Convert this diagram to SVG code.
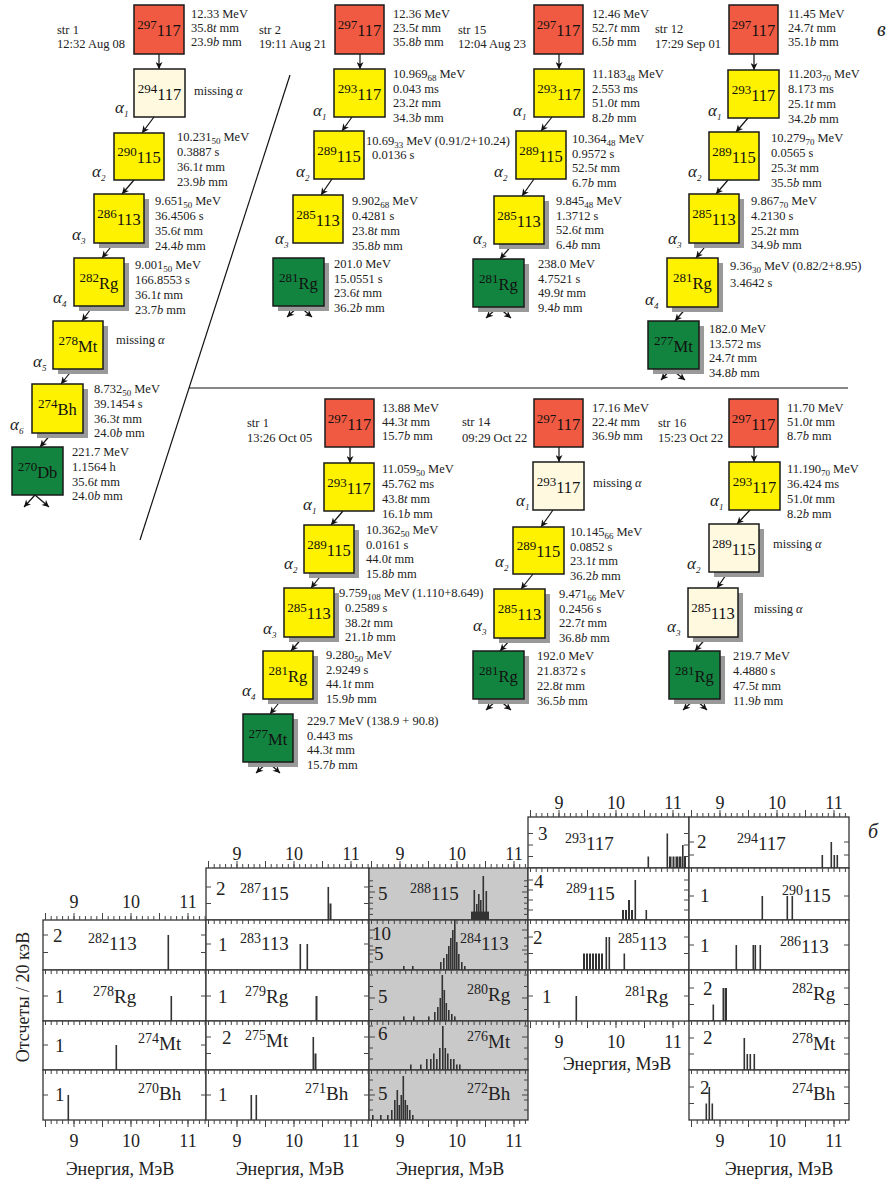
<svg xmlns="http://www.w3.org/2000/svg" width="889" height="1184" viewBox="0 0 889 1184">
<style>
text{font-family:"Liberation Serif","Times New Roman",serif}
.d{font-size:12.5px;fill:#222}
.nl{font-size:16.5px;text-anchor:middle;fill:#111}
.ms{font-size:13px}
.sub{font-size:9px}
.i{font-style:italic}
.al{font-style:italic;font-size:17px;fill:#222}
.bx{stroke:#1a1a1a;stroke-width:1.5}
.red{fill:#F15A42}
.yel{fill:#FFF200}
.crm{fill:#FFF9E0}
.grn{fill:#13843F}
.sh{fill:#999}
.ln{stroke:#111;stroke-width:1.2;fill:none}
.ar{stroke:#111;stroke-width:1.2;fill:none;marker-end:url(#ah)}
.fr{fill:#fff;stroke:#333;stroke-width:1.3}
.gp{fill:#c9c9c9;stroke:#333;stroke-width:1.3}
.bar rect{fill:#333}
.tk{stroke:#444;stroke-width:4;stroke-dasharray:1 4.7;fill:none}
.tkM{stroke:#444;stroke-width:7;stroke-dasharray:1 27.5;fill:none}
.yt{stroke:#444;stroke-width:1;fill:none}
.ht{font-size:19px;fill:#222}
.hs{font-size:14px}
.ax{font-size:18px;text-anchor:middle;fill:#222}
.pl{font-style:italic;font-size:20px;fill:#222}
</style>
<defs>
<marker id="ah" viewBox="0 0 10 10" refX="10" refY="5" markerWidth="8" markerHeight="7" orient="auto" markerUnits="userSpaceOnUse"><path d="M0,0 L10,5 L0,10 L3,5 z" fill="#111"/></marker>
</defs>
<rect width="889" height="1184" fill="#fff"/>

<g id="separators">
<line class="ln" x1="290" y1="75" x2="140" y2="540"/>
<line class="ln" x1="189" y1="388" x2="848" y2="388"/>
</g>
<text class="pl" x="877" y="36">в</text>

<g id="connectors">
<line class="ar" x1="159" y1="54" x2="159" y2="69"/>
<line class="ar" x1="154" y1="117" x2="142" y2="133"/>
<line class="ar" x1="134" y1="180" x2="122" y2="194"/>
<line class="ar" x1="114" y1="243" x2="102" y2="258"/>
<line class="ar" x1="93" y1="306" x2="82" y2="321"/>
<line class="ar" x1="73" y1="369" x2="61" y2="384"/>
<line class="ar" x1="52" y1="433" x2="40" y2="447"/>
<line class="ar" x1="35" y1="495" x2="24" y2="507"/>
<line class="ar" x1="35" y1="495" x2="49" y2="507"/>

<line class="ar" x1="360" y1="54" x2="360" y2="69"/>
<line class="ar" x1="352" y1="117" x2="342" y2="131"/>
<line class="ar" x1="332" y1="179" x2="321" y2="195"/>
<line class="ar" x1="299" y1="306" x2="287" y2="317"/>
<line class="ar" x1="299" y1="306" x2="312" y2="317"/>

<line class="ar" x1="559" y1="54" x2="559" y2="69"/>
<line class="ar" x1="552" y1="117" x2="541" y2="131"/>
<line class="ar" x1="534" y1="179" x2="522" y2="196"/>
<line class="ar" x1="513" y1="244" x2="500" y2="259"/>
<line class="ar" x1="498" y1="307" x2="486" y2="318"/>
<line class="ar" x1="498" y1="307" x2="511" y2="318"/>

<line class="ar" x1="754" y1="54" x2="754" y2="70"/>
<line class="ar" x1="748" y1="118" x2="736" y2="132"/>
<line class="ar" x1="728" y1="180" x2="716" y2="194"/>
<line class="ar" x1="708" y1="243" x2="696" y2="258"/>
<line class="ar" x1="687" y1="307" x2="675" y2="321"/>
<line class="ar" x1="671" y1="369" x2="661" y2="380"/>
<line class="ar" x1="671" y1="369" x2="685" y2="380"/>

<line class="ar" x1="350" y1="447" x2="350" y2="463"/>
<line class="ar" x1="343" y1="511" x2="331" y2="525"/>
<line class="ar" x1="323" y1="573" x2="311" y2="588"/>
<line class="ar" x1="303" y1="637" x2="291" y2="651"/>
<line class="ar" x1="282" y1="699" x2="270" y2="714"/>
<line class="ar" x1="268" y1="762" x2="256" y2="773"/>
<line class="ar" x1="268" y1="762" x2="280" y2="773"/>

<line class="ar" x1="559" y1="447" x2="559" y2="462"/>
<line class="ar" x1="553" y1="510" x2="541" y2="527"/>
<line class="ar" x1="533" y1="574" x2="521" y2="589"/>
<line class="ar" x1="512" y1="638" x2="500" y2="651"/>
<line class="ar" x1="498" y1="699" x2="486" y2="710"/>
<line class="ar" x1="498" y1="699" x2="511" y2="710"/>

<line class="ar" x1="754" y1="447" x2="754" y2="462"/>
<line class="ar" x1="750" y1="510" x2="737" y2="524"/>
<line class="ar" x1="728" y1="572" x2="717" y2="588"/>
<line class="ar" x1="707" y1="637" x2="695" y2="651"/>
<line class="ar" x1="695" y1="699" x2="683" y2="710"/>
<line class="ar" x1="695" y1="699" x2="707" y2="710"/>
</g>

<!-- ===== chain str 1 (Aug 08) ===== -->
<text class="d" x="57" y="34">str 1<tspan x="57" dy="14">12:32 Aug 08</tspan></text>
<g id="a-297"><rect class="bx red" x="134" y="5" width="50" height="49"/><text class="nl" x="159" y="36"><tspan class="ms" dy="-7">297</tspan><tspan dy="7">117</tspan></text>
<text class="d" x="191" y="18">12.33 MeV<tspan x="191" dy="14">35.8<tspan class="i">t</tspan> mm</tspan><tspan x="191" dy="14">23.9<tspan class="i">b</tspan> mm</tspan></text></g>
<g id="a-294"><rect class="bx crm" x="134" y="69" width="51" height="48"/><text class="nl" x="159.5" y="100"><tspan class="ms" dy="-7">294</tspan><tspan dy="7">117</tspan></text>
<text class="d" x="194" y="95">missing <tspan class="i">α</tspan></text>
<text class="al" x="115" y="113">α<tspan class="sub" dy="4">1</tspan></text></g>
<g id="a-290"><rect class="bx yel" x="114" y="133" width="50" height="47"/><text class="nl" x="139" y="163"><tspan class="ms" dy="-7">290</tspan><tspan dy="7">115</tspan></text>
<text class="d" x="177" y="141">10.231<tspan class="sub" dy="3">50</tspan><tspan dy="-3"> MeV</tspan><tspan x="177" dy="15">0.3887 s</tspan><tspan x="177" dy="15">36.1<tspan class="i">t</tspan> mm</tspan><tspan x="177" dy="15">23.9<tspan class="i">b</tspan> mm</tspan></text>
<text class="al" x="92" y="177">α<tspan class="sub" dy="4">2</tspan></text></g>
<g id="a-286"><rect class="sh" x="99" y="199" width="50" height="49"/><rect class="bx yel" x="94" y="194" width="50" height="49"/><text class="nl" x="119" y="225"><tspan class="ms" dy="-7">286</tspan><tspan dy="7">113</tspan></text>
<text class="d" x="155" y="205">9.651<tspan class="sub" dy="3">50</tspan><tspan dy="-3"> MeV</tspan><tspan x="155" dy="15">36.4506 s</tspan><tspan x="155" dy="15">35.6<tspan class="i">t</tspan> mm</tspan><tspan x="155" dy="14.5">24.4<tspan class="i">b</tspan> mm</tspan></text>
<text class="al" x="72" y="240">α<tspan class="sub" dy="4">3</tspan></text></g>
<g id="a-282"><rect class="sh" x="79" y="263" width="50" height="48"/><rect class="bx yel" x="74" y="258" width="50" height="48"/><text class="nl" x="99" y="289"><tspan class="ms" dy="-7">282</tspan><tspan dy="7">Rg</tspan></text>
<text class="d" x="135" y="269">9.001<tspan class="sub" dy="3">50</tspan><tspan dy="-3"> MeV</tspan><tspan x="135" dy="15">166.8553 s</tspan><tspan x="135" dy="15">36.1<tspan class="i">t</tspan> mm</tspan><tspan x="135" dy="15">23.7<tspan class="i">b</tspan> mm</tspan></text>
<text class="al" x="53" y="303">α<tspan class="sub" dy="4">4</tspan></text></g>
<g id="a-278"><rect class="sh" x="58" y="326" width="50" height="48"/><rect class="bx yel" x="53" y="321" width="50" height="48"/><text class="nl" x="78" y="352"><tspan class="ms" dy="-7">278</tspan><tspan dy="7">Mt</tspan></text>
<text class="d" x="116" y="344">missing <tspan class="i">α</tspan></text>
<text class="al" x="33" y="367">α<tspan class="sub" dy="4">5</tspan></text></g>
<g id="a-274"><rect class="sh" x="37" y="389" width="51" height="49"/><rect class="bx yel" x="32" y="384" width="51" height="49"/><text class="nl" x="57.5" y="415"><tspan class="ms" dy="-7">274</tspan><tspan dy="7">Bh</tspan></text>
<text class="d" x="94" y="393">8.732<tspan class="sub" dy="3">50</tspan><tspan dy="-3"> MeV</tspan><tspan x="94" dy="15">39.1454 s</tspan><tspan x="94" dy="15">36.3<tspan class="i">t</tspan> mm</tspan><tspan x="94" dy="14">24.0<tspan class="i">b</tspan> mm</tspan></text>
<text class="al" x="10" y="430">α<tspan class="sub" dy="4">6</tspan></text></g>
<g id="a-270"><rect class="bx grn" x="12" y="447" width="51" height="48"/><text class="nl" x="37.5" y="478"><tspan class="ms" dy="-7">270</tspan><tspan dy="7">Db</tspan></text>
<text class="d" x="72" y="456">221.7 MeV<tspan x="72" dy="15">1.1564 h</tspan><tspan x="72" dy="15">35.6<tspan class="i">t</tspan> mm</tspan><tspan x="72" dy="14">24.0<tspan class="i">b</tspan> mm</tspan></text></g>

<!-- ===== chain str 2 ===== -->
<text class="d" x="259" y="34">str 2<tspan x="259" dy="14">19:11 Aug 21</tspan></text>
<g id="b-297"><rect class="bx red" x="335" y="5" width="49" height="49"/><text class="nl" x="359.5" y="36"><tspan class="ms" dy="-7">297</tspan><tspan dy="7">117</tspan></text>
<text class="d" x="393" y="18">12.36 MeV<tspan x="393" dy="14">23.5<tspan class="i">t</tspan> mm</tspan><tspan x="393" dy="14">35.8<tspan class="i">b</tspan> mm</tspan></text></g>
<g id="b-293"><rect class="bx yel" x="334" y="69" width="51" height="48"/><text class="nl" x="359.5" y="100"><tspan class="ms" dy="-7">293</tspan><tspan dy="7">117</tspan></text>
<text class="d" x="393" y="78">10.969<tspan class="sub" dy="3">68</tspan><tspan dy="-3"> MeV</tspan><tspan x="393" dy="15">0.043 ms</tspan><tspan x="393" dy="14">23.2<tspan class="i">t</tspan> mm</tspan><tspan x="393" dy="15">34.3<tspan class="i">b</tspan> mm</tspan></text>
<text class="al" x="313" y="116">α<tspan class="sub" dy="4">1</tspan></text></g>
<g id="b-289"><rect class="bx yel" x="314" y="131" width="50" height="48"/><text class="nl" x="339" y="162"><tspan class="ms" dy="-7">289</tspan><tspan dy="7">115</tspan></text>
<text class="d" x="366" y="145">10.69<tspan class="sub" dy="3">33</tspan><tspan dy="-3"> MeV (0.91/2+10.24)</tspan><tspan x="372" dy="14">0.0136 s</tspan></text>
<text class="al" x="296" y="177">α<tspan class="sub" dy="4">2</tspan></text></g>
<g id="b-285"><rect class="bx yel" x="293" y="195" width="50" height="48"/><text class="nl" x="318" y="226"><tspan class="ms" dy="-7">285</tspan><tspan dy="7">113</tspan></text>
<text class="d" x="352" y="205">9.902<tspan class="sub" dy="3">68</tspan><tspan dy="-3"> MeV</tspan><tspan x="352" dy="15">0.4281 s</tspan><tspan x="352" dy="15">23.8<tspan class="i">t</tspan> mm</tspan><tspan x="352" dy="14.5">35.8<tspan class="i">b</tspan> mm</tspan></text>
<text class="al" x="275" y="244">α<tspan class="sub" dy="4">3</tspan></text></g>
<g id="b-281"><rect class="sh" x="278" y="263" width="51" height="48"/><rect class="bx grn" x="273" y="258" width="51" height="48"/><text class="nl" x="298.5" y="289"><tspan class="ms" dy="-7">281</tspan><tspan dy="7">Rg</tspan></text>
<text class="d" x="334" y="268">201.0 MeV<tspan x="334" dy="14.5">15.0551 s</tspan><tspan x="334" dy="14.5">23.6<tspan class="i">t</tspan> mm</tspan><tspan x="334" dy="14.5">36.2<tspan class="i">b</tspan> mm</tspan></text></g>

<!-- ===== chain str 15 ===== -->
<text class="d" x="458" y="34">str 15<tspan x="458" dy="14">12:04 Aug 23</tspan></text>
<g id="c-297"><rect class="bx red" x="534" y="5" width="49" height="49"/><text class="nl" x="558.5" y="36"><tspan class="ms" dy="-7">297</tspan><tspan dy="7">117</tspan></text>
<text class="d" x="592" y="18">12.46 MeV<tspan x="592" dy="14">52.7<tspan class="i">t</tspan> mm</tspan><tspan x="592" dy="14">6.5<tspan class="i">b</tspan> mm</tspan></text></g>
<g id="c-293"><rect class="bx yel" x="534" y="69" width="50" height="48"/><text class="nl" x="559" y="100"><tspan class="ms" dy="-7">293</tspan><tspan dy="7">117</tspan></text>
<text class="d" x="592" y="78">11.183<tspan class="sub" dy="3">48</tspan><tspan dy="-3"> MeV</tspan><tspan x="592" dy="15">2.553 ms</tspan><tspan x="592" dy="14">51.0<tspan class="i">t</tspan> mm</tspan><tspan x="592" dy="15">8.2<tspan class="i">b</tspan> mm</tspan></text>
<text class="al" x="513" y="116">α<tspan class="sub" dy="4">1</tspan></text></g>
<g id="c-289"><rect class="bx yel" x="516" y="131" width="50" height="48"/><text class="nl" x="541" y="162"><tspan class="ms" dy="-7">289</tspan><tspan dy="7">115</tspan></text>
<text class="d" x="572" y="143">10.364<tspan class="sub" dy="3">48</tspan><tspan dy="-3"> MeV</tspan><tspan x="572" dy="15">0.9572 s</tspan><tspan x="572" dy="14">52.5<tspan class="i">t</tspan> mm</tspan><tspan x="572" dy="15">6.7<tspan class="i">b</tspan> mm</tspan></text>
<text class="al" x="494" y="177">α<tspan class="sub" dy="4">2</tspan></text></g>
<g id="c-285"><rect class="sh" x="499" y="201" width="50" height="48"/><rect class="bx yel" x="494" y="196" width="50" height="48"/><text class="nl" x="519" y="227"><tspan class="ms" dy="-7">285</tspan><tspan dy="7">113</tspan></text>
<text class="d" x="556" y="205">9.845<tspan class="sub" dy="3">48</tspan><tspan dy="-3"> MeV</tspan><tspan x="556" dy="15">1.3712 s</tspan><tspan x="556" dy="14">52.6<tspan class="i">t</tspan> mm</tspan><tspan x="556" dy="15">6.4<tspan class="i">b</tspan> mm</tspan></text>
<text class="al" x="473" y="244">α<tspan class="sub" dy="4">3</tspan></text></g>
<g id="c-281"><rect class="sh" x="478" y="264" width="51" height="48"/><rect class="bx grn" x="473" y="259" width="51" height="48"/><text class="nl" x="498.5" y="290"><tspan class="ms" dy="-7">281</tspan><tspan dy="7">Rg</tspan></text>
<text class="d" x="538" y="268">238.0 MeV<tspan x="538" dy="14.5">4.7521 s</tspan><tspan x="538" dy="14.5">49.9<tspan class="i">t</tspan> mm</tspan><tspan x="538" dy="14.5">9.4<tspan class="i">b</tspan> mm</tspan></text></g>

<!-- ===== chain str 12 ===== -->
<text class="d" x="655" y="33">str 12<tspan x="655" dy="15">17:29 Sep 01</tspan></text>
<g id="d-297"><rect class="bx red" x="729" y="5" width="49" height="49"/><text class="nl" x="753.5" y="36"><tspan class="ms" dy="-7">297</tspan><tspan dy="7">117</tspan></text>
<text class="d" x="788" y="18">11.45 MeV<tspan x="788" dy="14">24.7<tspan class="i">t</tspan> mm</tspan><tspan x="788" dy="14">35.1<tspan class="i">b</tspan> mm</tspan></text></g>
<g id="d-293"><rect class="bx yel" x="728" y="70" width="51" height="48"/><text class="nl" x="753.5" y="101"><tspan class="ms" dy="-7">293</tspan><tspan dy="7">117</tspan></text>
<text class="d" x="788" y="78">11.203<tspan class="sub" dy="3">70</tspan><tspan dy="-3"> MeV</tspan><tspan x="788" dy="15">8.173 ms</tspan><tspan x="788" dy="14.5">25.1<tspan class="i">t</tspan> mm</tspan><tspan x="788" dy="15">34.2<tspan class="i">b</tspan> mm</tspan></text>
<text class="al" x="708" y="116">α<tspan class="sub" dy="4">1</tspan></text></g>
<g id="d-289"><rect class="bx yel" x="709" y="132" width="50" height="48"/><text class="nl" x="734" y="163"><tspan class="ms" dy="-7">289</tspan><tspan dy="7">115</tspan></text>
<text class="d" x="771" y="142">10.279<tspan class="sub" dy="3">70</tspan><tspan dy="-3"> MeV</tspan><tspan x="771" dy="15">0.0565 s</tspan><tspan x="771" dy="14.5">25.3<tspan class="i">t</tspan> mm</tspan><tspan x="771" dy="15">35.5<tspan class="i">b</tspan> mm</tspan></text>
<text class="al" x="688" y="177">α<tspan class="sub" dy="4">2</tspan></text></g>
<g id="d-285"><rect class="sh" x="694" y="199" width="50" height="49"/><rect class="bx yel" x="689" y="194" width="50" height="49"/><text class="nl" x="714" y="225"><tspan class="ms" dy="-7">285</tspan><tspan dy="7">113</tspan></text>
<text class="d" x="751" y="205">9.867<tspan class="sub" dy="3">70</tspan><tspan dy="-3"> MeV</tspan><tspan x="751" dy="15">4.2130 s</tspan><tspan x="751" dy="14.5">25.2<tspan class="i">t</tspan> mm</tspan><tspan x="751" dy="14.5">34.9<tspan class="i">b</tspan> mm</tspan></text>
<text class="al" x="668" y="244">α<tspan class="sub" dy="4">3</tspan></text></g>
<g id="d-281"><rect class="sh" x="672" y="263" width="51" height="49"/><rect class="bx yel" x="667" y="258" width="51" height="49"/><text class="nl" x="692.5" y="289"><tspan class="ms" dy="-7">281</tspan><tspan dy="7">Rg</tspan></text>
<text class="d" x="730" y="270">9.36<tspan class="sub" dy="3">30</tspan><tspan dy="-3"> MeV (0.82/2+8.95)</tspan><tspan x="730" dy="17">3.4642 s</tspan></text>
<text class="al" x="645" y="305">α<tspan class="sub" dy="4">4</tspan></text></g>
<g id="d-277"><rect class="sh" x="653" y="326" width="51" height="48"/><rect class="bx grn" x="648" y="321" width="51" height="48"/><text class="nl" x="673.5" y="352"><tspan class="ms" dy="-7">277</tspan><tspan dy="7">Mt</tspan></text>
<text class="d" x="709" y="333">182.0 MeV<tspan x="709" dy="14.5">13.572 ms</tspan><tspan x="709" dy="14.5">24.7<tspan class="i">t</tspan> mm</tspan><tspan x="709" dy="14.5">34.8<tspan class="i">b</tspan> mm</tspan></text></g>

<!-- ===== chain str 1 (Oct 05) ===== -->
<text class="d" x="247" y="427">str 1<tspan x="247" dy="15">13:26 Oct 05</tspan></text>
<g id="e-297"><rect class="bx red" x="325" y="399" width="49" height="48"/><text class="nl" x="349.5" y="430"><tspan class="ms" dy="-7">297</tspan><tspan dy="7">117</tspan></text>
<text class="d" x="382" y="412">13.88 MeV<tspan x="382" dy="14">44.3<tspan class="i">t</tspan> mm</tspan><tspan x="382" dy="14">15.7<tspan class="i">b</tspan> mm</tspan></text></g>
<g id="e-293"><rect class="bx yel" x="324" y="463" width="50" height="48"/><text class="nl" x="349" y="494"><tspan class="ms" dy="-7">293</tspan><tspan dy="7">117</tspan></text>
<text class="d" x="382" y="473">11.059<tspan class="sub" dy="3">50</tspan><tspan dy="-3"> MeV</tspan><tspan x="382" dy="14.5">45.762 ms</tspan><tspan x="382" dy="15">43.8<tspan class="i">t</tspan> mm</tspan><tspan x="382" dy="15">16.1<tspan class="i">b</tspan> mm</tspan></text>
<text class="al" x="303" y="510">α<tspan class="sub" dy="4">1</tspan></text></g>
<g id="e-289"><rect class="sh" x="309" y="530" width="50" height="48"/><rect class="bx yel" x="304" y="525" width="50" height="48"/><text class="nl" x="329" y="556"><tspan class="ms" dy="-7">289</tspan><tspan dy="7">115</tspan></text>
<text class="d" x="366" y="534">10.362<tspan class="sub" dy="3">50</tspan><tspan dy="-3"> MeV</tspan><tspan x="366" dy="14.5">0.0161 s</tspan><tspan x="366" dy="14.5">44.0<tspan class="i">t</tspan> mm</tspan><tspan x="366" dy="14.5">15.8<tspan class="i">b</tspan> mm</tspan></text>
<text class="al" x="284" y="569">α<tspan class="sub" dy="4">2</tspan></text></g>
<g id="e-285"><rect class="sh" x="289" y="593" width="50" height="49"/><rect class="bx yel" x="284" y="588" width="50" height="49"/><text class="nl" x="309" y="619"><tspan class="ms" dy="-7">285</tspan><tspan dy="7">113</tspan></text>
<text class="d" x="339" y="597">9.759<tspan class="sub" dy="3">108</tspan><tspan dy="-3"> MeV (1.110+8.649)</tspan><tspan x="345" dy="15">0.2589 s</tspan><tspan x="345" dy="14.5">38.2<tspan class="i">t</tspan> mm</tspan><tspan x="345" dy="14.5">21.1<tspan class="i">b</tspan> mm</tspan></text>
<text class="al" x="263" y="634">α<tspan class="sub" dy="4">3</tspan></text></g>
<g id="e-281"><rect class="sh" x="268" y="656" width="50" height="48"/><rect class="bx yel" x="263" y="651" width="50" height="48"/><text class="nl" x="288" y="682"><tspan class="ms" dy="-7">281</tspan><tspan dy="7">Rg</tspan></text>
<text class="d" x="326" y="659">9.280<tspan class="sub" dy="3">50</tspan><tspan dy="-3"> MeV</tspan><tspan x="326" dy="14.5">2.9249 s</tspan><tspan x="326" dy="14.5">44.1<tspan class="i">t</tspan> mm</tspan><tspan x="326" dy="14.5">15.9<tspan class="i">b</tspan> mm</tspan></text>
<text class="al" x="242" y="696">α<tspan class="sub" dy="4">4</tspan></text></g>
<g id="e-277"><rect class="sh" x="248" y="719" width="50" height="48"/><rect class="bx grn" x="243" y="714" width="50" height="48"/><text class="nl" x="268" y="745"><tspan class="ms" dy="-7">277</tspan><tspan dy="7">Mt</tspan></text>
<text class="d" x="307" y="725">229.7 MeV (138.9 + 90.8)<tspan x="307" dy="14.5">0.443 ms</tspan><tspan x="307" dy="14.5">44.3<tspan class="i">t</tspan> mm</tspan><tspan x="307" dy="14.5">15.7<tspan class="i">b</tspan> mm</tspan></text></g>

<!-- ===== chain str 14 ===== -->
<text class="d" x="462" y="426">str 14<tspan x="462" dy="16">09:29 Oct 22</tspan></text>
<g id="f-297"><rect class="bx red" x="534" y="399" width="49" height="48"/><text class="nl" x="558.5" y="430"><tspan class="ms" dy="-7">297</tspan><tspan dy="7">117</tspan></text>
<text class="d" x="592" y="412">17.16 MeV<tspan x="592" dy="14">22.4<tspan class="i">t</tspan> mm</tspan><tspan x="592" dy="14">36.9<tspan class="i">b</tspan> mm</tspan></text></g>
<g id="f-293"><rect class="bx crm" x="533" y="462" width="51" height="48"/><text class="nl" x="558.5" y="493"><tspan class="ms" dy="-7">293</tspan><tspan dy="7">117</tspan></text>
<text class="d" x="593" y="487">missing <tspan class="i">α</tspan></text>
<text class="al" x="516" y="506">α<tspan class="sub" dy="4">1</tspan></text></g>
<g id="f-289"><rect class="bx yel" x="513" y="527" width="51" height="47"/><text class="nl" x="538.5" y="557"><tspan class="ms" dy="-7">289</tspan><tspan dy="7">115</tspan></text>
<text class="d" x="570" y="536">10.145<tspan class="sub" dy="3">66</tspan><tspan dy="-3"> MeV</tspan><tspan x="570" dy="15">0.0852 s</tspan><tspan x="570" dy="14">23.1<tspan class="i">t</tspan> mm</tspan><tspan x="570" dy="15">36.2<tspan class="i">b</tspan> mm</tspan></text>
<text class="al" x="495" y="567">α<tspan class="sub" dy="4">2</tspan></text></g>
<g id="f-285"><rect class="sh" x="499" y="594" width="51" height="49"/><rect class="bx yel" x="494" y="589" width="51" height="49"/><text class="nl" x="519.5" y="620"><tspan class="ms" dy="-7">285</tspan><tspan dy="7">113</tspan></text>
<text class="d" x="559" y="598">9.471<tspan class="sub" dy="3">66</tspan><tspan dy="-3"> MeV</tspan><tspan x="559" dy="14.5">0.2456 s</tspan><tspan x="559" dy="14.5">22.7<tspan class="i">t</tspan> mm</tspan><tspan x="559" dy="14.5">36.8<tspan class="i">b</tspan> mm</tspan></text>
<text class="al" x="473" y="631">α<tspan class="sub" dy="4">3</tspan></text></g>
<g id="f-281"><rect class="sh" x="478" y="656" width="51" height="48"/><rect class="bx grn" x="473" y="651" width="51" height="48"/><text class="nl" x="498.5" y="682"><tspan class="ms" dy="-7">281</tspan><tspan dy="7">Rg</tspan></text>
<text class="d" x="537" y="660">192.0 MeV<tspan x="537" dy="15">21.8372 s</tspan><tspan x="537" dy="15">22.8<tspan class="i">t</tspan> mm</tspan><tspan x="537" dy="15">36.5<tspan class="i">b</tspan> mm</tspan></text></g>

<!-- ===== chain str 16 ===== -->
<text class="d" x="658" y="427">str 16<tspan x="658" dy="15">15:23 Oct 22</tspan></text>
<g id="g-297"><rect class="bx red" x="729" y="399" width="49" height="48"/><text class="nl" x="753.5" y="430"><tspan class="ms" dy="-7">297</tspan><tspan dy="7">117</tspan></text>
<text class="d" x="787" y="412">11.70 MeV<tspan x="787" dy="14">51.0<tspan class="i">t</tspan> mm</tspan><tspan x="787" dy="14">8.7<tspan class="i">b</tspan> mm</tspan></text></g>
<g id="g-293"><rect class="bx yel" x="729" y="462" width="51" height="48"/><text class="nl" x="754.5" y="493"><tspan class="ms" dy="-7">293</tspan><tspan dy="7">117</tspan></text>
<text class="d" x="787" y="473">11.190<tspan class="sub" dy="3">70</tspan><tspan dy="-3"> MeV</tspan><tspan x="787" dy="15">36.424 ms</tspan><tspan x="787" dy="14.5">51.0<tspan class="i">t</tspan> mm</tspan><tspan x="787" dy="15">8.2<tspan class="i">b</tspan> mm</tspan></text>
<text class="al" x="710" y="506">α<tspan class="sub" dy="4">1</tspan></text></g>
<g id="g-289"><rect class="sh" x="714" y="529" width="50" height="48"/><rect class="bx crm" x="709" y="524" width="50" height="48"/><text class="nl" x="734" y="555"><tspan class="ms" dy="-7">289</tspan><tspan dy="7">115</tspan></text>
<text class="d" x="773" y="548">missing <tspan class="i">α</tspan></text>
<text class="al" x="687" y="569">α<tspan class="sub" dy="4">2</tspan></text></g>
<g id="g-285"><rect class="sh" x="693" y="593" width="50" height="49"/><rect class="bx crm" x="688" y="588" width="50" height="49"/><text class="nl" x="713" y="619"><tspan class="ms" dy="-7">285</tspan><tspan dy="7">113</tspan></text>
<text class="d" x="754" y="613">missing <tspan class="i">α</tspan></text>
<text class="al" x="667" y="632">α<tspan class="sub" dy="4">3</tspan></text></g>
<g id="g-281"><rect class="sh" x="674" y="656" width="51" height="48"/><rect class="bx grn" x="669" y="651" width="51" height="48"/><text class="nl" x="694.5" y="682"><tspan class="ms" dy="-7">281</tspan><tspan dy="7">Rg</tspan></text>
<text class="d" x="733" y="660">219.7 MeV<tspan x="733" dy="15">4.4880 s</tspan><tspan x="733" dy="15">47.5<tspan class="i">t</tspan> mm</tspan><tspan x="733" dy="15">11.9<tspan class="i">b</tspan> mm</tspan></text></g>

<!-- ======================= panel б: histograms ======================= -->
<g id="hist-frames">
<rect class="fr" x="43" y="920" width="163" height="50"/>
<rect class="fr" x="43" y="970" width="163" height="51"/>
<rect class="fr" x="43" y="1021" width="163" height="49"/>
<rect class="fr" x="43" y="1070" width="163" height="50"/>
<rect class="fr" x="206" y="868" width="163" height="52"/>
<rect class="fr" x="206" y="920" width="163" height="50"/>
<rect class="fr" x="206" y="970" width="163" height="51"/>
<rect class="fr" x="206" y="1021" width="163" height="49"/>
<rect class="fr" x="206" y="1070" width="163" height="50"/>
<rect class="gp" x="369" y="868" width="159" height="52"/>
<rect class="gp" x="369" y="920" width="159" height="50"/>
<rect class="gp" x="369" y="970" width="159" height="51"/>
<rect class="gp" x="369" y="1021" width="159" height="49"/>
<rect class="gp" x="369" y="1070" width="159" height="50"/>
<rect class="fr" x="528" y="817" width="161" height="51"/>
<rect class="fr" x="528" y="868" width="161" height="52"/>
<rect class="fr" x="528" y="920" width="161" height="50"/>
<rect class="fr" x="528" y="970" width="161" height="51"/>
<rect class="fr" x="689" y="817" width="160" height="51"/>
<rect class="fr" x="689" y="868" width="160" height="52"/>
<rect class="fr" x="689" y="920" width="160" height="50"/>
<rect class="fr" x="689" y="970" width="160" height="51"/>
<rect class="fr" x="689" y="1021" width="160" height="49"/>
<rect class="fr" x="689" y="1070" width="160" height="50"/>
</g>

<g id="hist-xticks">
<line class="tk" x1="45" y1="918" x2="206" y2="918"/><line class="tkM" x1="45" y1="916.5" x2="206" y2="916.5"/>
<line class="tk" x1="208" y1="866" x2="369" y2="866"/><line class="tkM" x1="208" y1="864.5" x2="369" y2="864.5"/>
<line class="tk" x1="371" y1="866" x2="528" y2="866"/><line class="tkM" x1="371" y1="864.5" x2="528" y2="864.5"/>
<line class="tk" x1="530" y1="815" x2="689" y2="815"/><line class="tkM" x1="530" y1="813.5" x2="689" y2="813.5"/>
<line class="tk" x1="691" y1="815" x2="849" y2="815"/><line class="tkM" x1="691" y1="813.5" x2="849" y2="813.5"/>
<line class="tk" x1="45" y1="972" x2="206" y2="972"/>
<line class="tk" x1="45" y1="1023" x2="206" y2="1023"/>
<line class="tk" x1="45" y1="1072" x2="206" y2="1072"/>
<line class="tk" x1="208" y1="922" x2="369" y2="922"/>
<line class="tk" x1="208" y1="972" x2="369" y2="972"/>
<line class="tk" x1="208" y1="1023" x2="369" y2="1023"/>
<line class="tk" x1="208" y1="1072" x2="369" y2="1072"/>
<line class="tk" x1="371" y1="922" x2="528" y2="922"/>
<line class="tk" x1="371" y1="972" x2="528" y2="972"/>
<line class="tk" x1="371" y1="1023" x2="528" y2="1023"/>
<line class="tk" x1="371" y1="1072" x2="528" y2="1072"/>
<line class="tk" x1="530" y1="870" x2="689" y2="870"/>
<line class="tk" x1="530" y1="922" x2="689" y2="922"/>
<line class="tk" x1="530" y1="972" x2="689" y2="972"/>
<line class="tk" x1="691" y1="870" x2="849" y2="870"/>
<line class="tk" x1="691" y1="922" x2="849" y2="922"/>
<line class="tk" x1="691" y1="972" x2="849" y2="972"/>
<line class="tk" x1="691" y1="1023" x2="849" y2="1023"/>
<line class="tk" x1="691" y1="1072" x2="849" y2="1072"/>
<line class="tk" x1="45" y1="1122" x2="206" y2="1122"/><line class="tkM" x1="45" y1="1123.5" x2="206" y2="1123.5"/>
<line class="tk" x1="208" y1="1122" x2="369" y2="1122"/><line class="tkM" x1="208" y1="1123.5" x2="369" y2="1123.5"/>
<line class="tk" x1="371" y1="1122" x2="528" y2="1122"/><line class="tkM" x1="371" y1="1123.5" x2="528" y2="1123.5"/>
<line class="tk" x1="530" y1="1023" x2="689" y2="1023"/><line class="tkM" x1="530" y1="1024.5" x2="689" y2="1024.5"/>
<line class="tk" x1="691" y1="1122" x2="849" y2="1122"/><line class="tkM" x1="691" y1="1123.5" x2="849" y2="1123.5"/>
</g>

<g id="hist-yticks">
<path class="yt" d="M528,856.5h5M528,845h5M528,833.5h5M689,856.5h-5M689,845h-5M689,833.5h-5"/>
<path class="yt" d="M689,855h5M689,842h5M849,855h-5M849,842h-5"/>
<path class="yt" d="M206,903.5h5M206,887h5M369,903.5h-5M369,887h-5"/>
<path class="yt" d="M369,914.4h4M369,908.8h4M369,903.2h4M369,897.6h4M369,892h6M369,886.4h4M369,880.8h4M528,914.4h-4M528,908.8h-4M528,903.2h-4M528,897.6h-4M528,892h-6M528,886.4h-4M528,880.8h-4"/>
<path class="yt" d="M528,910h5M528,900h5M528,890h5M528,880h5M689,910h-5M689,900h-5M689,890h-5M689,880h-5"/>
<path class="yt" d="M689,896h5M849,896h-5"/>
<path class="yt" d="M43,952.5h5M43,935h5M206,952.5h-5M206,935h-5"/>
<path class="yt" d="M206,944h5M369,944h-5"/>
<path class="yt" d="M369,962h4M369,954h4M369,950h6M369,946h4M369,938h4M369,930h6M528,962h-4M528,954h-4M528,950h-6M528,946h-4M528,938h-4M528,930h-6"/>
<path class="yt" d="M528,953.5h5M528,937h5M689,953.5h-5M689,937h-5"/>
<path class="yt" d="M689,945h5M849,945h-5"/>
<path class="yt" d="M43,996h5M206,996h-5M206,996h5M369,996h-5"/>
<path class="yt" d="M369,1009.5h4M369,998h6M369,986.5h4M369,975h4M528,1009.5h-4M528,998h-6M528,986.5h-4M528,975h-4"/>
<path class="yt" d="M528,996h5M689,996h-5"/>
<path class="yt" d="M689,1004.5h5M689,988h5M849,1004.5h-5M849,988h-5"/>
<path class="yt" d="M43,1045h5M206,1045h-5"/>
<path class="yt" d="M206,1053.5h5M206,1037h5M369,1053.5h-5M369,1037h-5"/>
<path class="yt" d="M369,1059h4M369,1048h4M369,1037h6M369,1026h4M528,1059h-4M528,1048h-4M528,1037h-6M528,1026h-4"/>
<path class="yt" d="M689,1054h5M689,1038h5M849,1054h-5M849,1038h-5"/>
<path class="yt" d="M43,1095h5M206,1095h-5M206,1095h5M369,1095h-5"/>
<path class="yt" d="M369,1110h4M369,1100h4M369,1095h6M369,1090h4M369,1080h4M528,1110h-4M528,1100h-4M528,1095h-6M528,1090h-4M528,1080h-4"/>
<path class="yt" d="M689,1103.5h5M689,1087h5M849,1103.5h-5M849,1087h-5"/>
</g>

<g id="hist-bars" class="bar">
<rect x="647.5" y="856.5" width="1.6" height="11.5"/><rect x="666.5" y="833.5" width="1.6" height="34.5"/>
<rect x="669" y="856.5" width="2.5" height="11.5"/><rect x="672.5" y="856.5" width="2" height="11.5"/><rect x="675.5" y="856.5" width="3" height="11.5"/><rect x="679" y="856.5" width="2.5" height="11.5"/><rect x="682" y="845" width="1.6" height="23"/><rect x="684" y="856.5" width="2" height="11.5"/>
<rect x="821.5" y="855" width="1.6" height="13"/><rect x="830.5" y="842" width="1.6" height="26"/><rect x="833.5" y="855" width="1.6" height="13"/><rect x="836.5" y="855" width="1.6" height="13"/>
<rect x="327.5" y="887" width="1.6" height="33"/><rect x="329.5" y="903.5" width="2" height="16.5"/>
<rect x="471" y="911.6" width="18" height="8.4"/><rect x="473.5" y="890" width="1.6" height="30"/><rect x="476" y="904" width="1.6" height="16"/><rect x="478" y="894" width="1.6" height="26"/><rect x="480" y="900" width="1.6" height="20"/><rect x="482.5" y="876" width="1.6" height="44"/><rect x="485.5" y="891" width="1.6" height="29"/>
<rect x="622" y="910" width="2" height="10"/><rect x="625" y="910" width="2" height="10"/><rect x="628" y="900" width="2" height="20"/><rect x="631" y="910" width="2" height="10"/><rect x="634.5" y="880" width="1.6" height="40"/><rect x="645.5" y="910" width="1.6" height="10"/>
<rect x="761.5" y="896" width="1.6" height="24"/><rect x="786.5" y="896" width="1.6" height="24"/><rect x="791.5" y="896" width="1.6" height="24"/>
<rect x="167.5" y="935" width="1.6" height="35"/>
<rect x="299.5" y="944" width="1.6" height="26"/><rect x="306.5" y="944" width="1.6" height="26"/>
<rect x="403" y="966" width="1.6" height="4"/><rect x="412" y="966" width="1.6" height="4"/><rect x="440" y="962" width="1.6" height="8"/><rect x="443" y="958" width="1.6" height="12"/><rect x="446" y="954" width="1.6" height="16"/><rect x="448" y="946" width="1.6" height="24"/><rect x="450" y="938" width="1.6" height="32"/><rect x="452" y="930" width="1.6" height="40"/><rect x="454" y="920" width="1.6" height="50"/><rect x="456" y="942" width="1.6" height="28"/><rect x="458" y="954" width="1.6" height="16"/><rect x="461" y="962" width="1.6" height="8"/><rect x="464" y="966" width="1.6" height="4"/>
<rect x="583" y="953.5" width="2" height="16.5"/><rect x="586" y="953.5" width="2" height="16.5"/><rect x="589" y="953.5" width="2" height="16.5"/><rect x="592" y="953.5" width="2" height="16.5"/><rect x="595" y="953.5" width="2" height="16.5"/><rect x="598" y="953.5" width="2" height="16.5"/><rect x="601" y="953.5" width="2" height="16.5"/><rect x="605.5" y="937" width="1.6" height="33"/><rect x="608.5" y="937" width="1.6" height="33"/><rect x="623.5" y="953.5" width="1.6" height="16.5"/>
<rect x="735.5" y="945" width="1.6" height="25"/><rect x="752.5" y="945" width="1.6" height="25"/><rect x="754.5" y="945" width="1.6" height="25"/><rect x="759.5" y="945" width="1.6" height="25"/>
<rect x="170.5" y="996" width="1.6" height="25"/><rect x="315.5" y="996" width="2" height="25"/>
<rect x="403" y="1016.4" width="1.6" height="4.6"/><rect x="413" y="1016.4" width="1.6" height="4.6"/><rect x="428" y="1016.4" width="1.6" height="4.6"/><rect x="434" y="1012" width="1.6" height="9"/><rect x="437" y="1007" width="1.6" height="14"/><rect x="439.5" y="998" width="1.6" height="23"/><rect x="441.5" y="975" width="1.6" height="46"/><rect x="443.5" y="990" width="1.6" height="31"/><rect x="445.5" y="1003" width="1.6" height="18"/><rect x="448" y="1010" width="1.6" height="11"/><rect x="451" y="1014" width="1.6" height="7"/><rect x="454" y="1016.4" width="1.6" height="4.6"/>
<rect x="575.5" y="996" width="1.6" height="25"/>
<rect x="712.5" y="1004.5" width="1.6" height="16.5"/><rect x="722.5" y="988" width="2" height="33"/><rect x="725" y="988" width="2" height="33"/>
<rect x="115.5" y="1045" width="1.6" height="25"/><rect x="312.5" y="1037" width="1.6" height="33"/><rect x="314.5" y="1053.5" width="2" height="16.5"/>
<rect x="410" y="1064.5" width="1.6" height="5.5"/><rect x="420" y="1064.5" width="1.6" height="5.5"/><rect x="426" y="1059" width="1.6" height="11"/><rect x="430" y="1059" width="1.6" height="11"/><rect x="433" y="1053.5" width="1.6" height="16.5"/><rect x="436" y="1059" width="1.6" height="11"/><rect x="439" y="1048" width="1.6" height="22"/><rect x="442" y="1026" width="1.6" height="44"/><rect x="444.5" y="1048" width="1.6" height="22"/><rect x="447" y="1053.5" width="1.6" height="16.5"/><rect x="450" y="1059" width="1.6" height="11"/><rect x="453" y="1059" width="1.6" height="11"/><rect x="456" y="1064.5" width="1.6" height="5.5"/><rect x="459" y="1064.5" width="1.6" height="5.5"/>
<rect x="743.5" y="1038" width="1.6" height="32"/><rect x="746.5" y="1054" width="1.6" height="16"/><rect x="749.5" y="1054" width="1.6" height="16"/><rect x="753.5" y="1054" width="1.6" height="16"/>
<rect x="67.5" y="1095" width="1.6" height="25"/><rect x="250.5" y="1095" width="1.6" height="25"/><rect x="255.5" y="1095" width="1.6" height="25"/>
<rect x="372" y="1115" width="1.6" height="5"/><rect x="380" y="1115" width="1.6" height="5"/><rect x="387" y="1115" width="1.6" height="5"/><rect x="391" y="1110" width="1.6" height="10"/><rect x="394" y="1100" width="1.6" height="20"/><rect x="396.5" y="1090" width="1.6" height="30"/><rect x="398.5" y="1105" width="1.6" height="15"/><rect x="400.5" y="1095" width="1.6" height="25"/><rect x="402.5" y="1076" width="1.6" height="44"/><rect x="404.5" y="1100" width="1.6" height="20"/><rect x="406.5" y="1105" width="1.6" height="15"/><rect x="409" y="1110" width="1.6" height="10"/><rect x="412" y="1115" width="1.6" height="5"/>
<rect x="705.5" y="1103.5" width="1.6" height="16.5"/><rect x="708.5" y="1087" width="1.6" height="33"/><rect x="711.5" y="1103.5" width="1.6" height="16.5"/>
</g>

<g id="hist-labels">
<text class="ht" x="538" y="840">3</text><text class="ht" x="565" y="850"><tspan class="hs" dy="-7">293</tspan><tspan dy="7">117</tspan></text>
<text class="ht" x="697" y="848">2</text><text class="ht" x="737" y="850"><tspan class="hs" dy="-7">294</tspan><tspan dy="7">117</tspan></text>
<text class="ht" x="216" y="895">2</text><text class="ht" x="240" y="900"><tspan class="hs" dy="-7">287</tspan><tspan dy="7">115</tspan></text>
<text class="ht" x="378" y="900">5</text><text class="ht" x="410" y="900"><tspan class="hs" dy="-7">288</tspan><tspan dy="7">115</tspan></text>
<text class="ht" x="534" y="888">4</text><text class="ht" x="566" y="900"><tspan class="hs" dy="-7">289</tspan><tspan dy="7">115</tspan></text>
<text class="ht" x="700" y="902">1</text><text class="ht" x="782" y="902"><tspan class="hs" dy="-7">290</tspan><tspan dy="7">115</tspan></text>
<text class="ht" x="53" y="942">2</text><text class="ht" x="88" y="950"><tspan class="hs" dy="-7">282</tspan><tspan dy="7">113</tspan></text>
<text class="ht" x="218" y="951">1</text><text class="ht" x="240" y="950"><tspan class="hs" dy="-7">283</tspan><tspan dy="7">113</tspan></text>
<text class="ht" x="372" y="940">10</text><text class="ht" x="374" y="960">5</text><text class="ht" x="460" y="950"><tspan class="hs" dy="-7">284</tspan><tspan dy="7">113</tspan></text>
<text class="ht" x="533" y="944">2</text><text class="ht" x="618" y="950"><tspan class="hs" dy="-7">285</tspan><tspan dy="7">113</tspan></text>
<text class="ht" x="700" y="952">1</text><text class="ht" x="780" y="953"><tspan class="hs" dy="-7">286</tspan><tspan dy="7">113</tspan></text>
<text class="ht" x="55" y="1003">1</text><text class="ht" x="93" y="1003"><tspan class="hs" dy="-7">278</tspan><tspan dy="7">Rg</tspan></text>
<text class="ht" x="218" y="1003">1</text><text class="ht" x="245" y="1003"><tspan class="hs" dy="-7">279</tspan><tspan dy="7">Rg</tspan></text>
<text class="ht" x="378" y="1003">5</text><text class="ht" x="467" y="1001"><tspan class="hs" dy="-7">280</tspan><tspan dy="7">Rg</tspan></text>
<text class="ht" x="542" y="1003">1</text><text class="ht" x="625" y="1003"><tspan class="hs" dy="-7">281</tspan><tspan dy="7">Rg</tspan></text>
<text class="ht" x="703" y="995">2</text><text class="ht" x="792" y="1000"><tspan class="hs" dy="-7">282</tspan><tspan dy="7">Rg</tspan></text>
<text class="ht" x="55" y="1052">1</text><text class="ht" x="138" y="1050"><tspan class="hs" dy="-7">274</tspan><tspan dy="7">Mt</tspan></text>
<text class="ht" x="222" y="1044">2</text><text class="ht" x="245" y="1047"><tspan class="hs" dy="-7">275</tspan><tspan dy="7">Mt</tspan></text>
<text class="ht" x="378" y="1040">6</text><text class="ht" x="467" y="1048"><tspan class="hs" dy="-7">276</tspan><tspan dy="7">Mt</tspan></text>
<text class="ht" x="703" y="1044">2</text><text class="ht" x="792" y="1050"><tspan class="hs" dy="-7">278</tspan><tspan dy="7">Mt</tspan></text>
<text class="ht" x="55" y="1101">1</text><text class="ht" x="138" y="1100"><tspan class="hs" dy="-7">270</tspan><tspan dy="7">Bh</tspan></text>
<text class="ht" x="218" y="1101">1</text><text class="ht" x="305" y="1100"><tspan class="hs" dy="-7">271</tspan><tspan dy="7">Bh</tspan></text>
<text class="ht" x="378" y="1100">5</text><text class="ht" x="467" y="1100"><tspan class="hs" dy="-7">272</tspan><tspan dy="7">Bh</tspan></text>
<text class="ht" x="700" y="1094">2</text><text class="ht" x="792" y="1100"><tspan class="hs" dy="-7">274</tspan><tspan dy="7">Bh</tspan></text>
</g>

<g id="hist-axes">
<text class="ax" x="74" y="908">9</text><text class="ax" x="131" y="908">10</text><text class="ax" x="188" y="908">11</text>
<text class="ax" x="237" y="860">9</text><text class="ax" x="294" y="860">10</text><text class="ax" x="351" y="860">11</text>
<text class="ax" x="400" y="860">9</text><text class="ax" x="457" y="860">10</text><text class="ax" x="514" y="860">11</text>
<text class="ax" x="559" y="809">9</text><text class="ax" x="616" y="809">10</text><text class="ax" x="673" y="809">11</text>
<text class="ax" x="720" y="809">9</text><text class="ax" x="777" y="809">10</text><text class="ax" x="834" y="809">11</text>
<text class="ax" x="74" y="1147">9</text><text class="ax" x="131" y="1147">10</text><text class="ax" x="188" y="1147">11</text>
<text class="ax" x="237" y="1147">9</text><text class="ax" x="294" y="1147">10</text><text class="ax" x="351" y="1147">11</text>
<text class="ax" x="400" y="1147">9</text><text class="ax" x="457" y="1147">10</text><text class="ax" x="514" y="1147">11</text>
<text class="ax" x="559" y="1048">9</text><text class="ax" x="616" y="1048">10</text><text class="ax" x="673" y="1048">11</text>
<text class="ax" x="720" y="1147">9</text><text class="ax" x="777" y="1147">10</text><text class="ax" x="834" y="1147">11</text>
<text class="ax" x="120" y="1175">Энергия, МэВ</text>
<text class="ax" x="290" y="1175">Энергия, МэВ</text>
<text class="ax" x="450" y="1175">Энергия, МэВ</text>
<text class="ax" x="617" y="1070">Энергия, МэВ</text>
<text class="ax" x="779" y="1175">Энергия, МэВ</text>
<text class="ax" transform="translate(29,997) rotate(-90)">Отсчеты / 20 кэВ</text>
<text class="pl" x="868" y="838">б</text>
</g>
</svg>
